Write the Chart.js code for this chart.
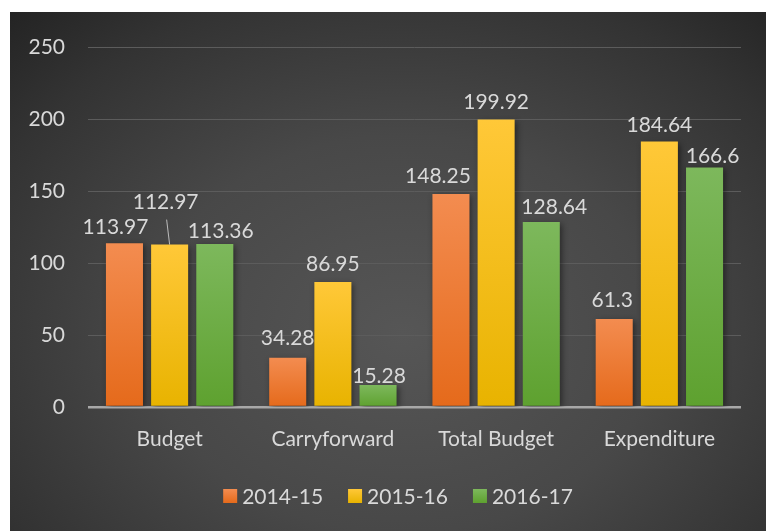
<!DOCTYPE html>
<html>
<head>
<meta charset="utf-8">
<script src="https://cdn.jsdelivr.net/npm/chart.js@4.4.0/dist/chart.umd.min.js"></script>
<style>
  html, body { margin: 0; padding: 0; background: #fff; }
  .panel {
    position: absolute; left: 10px; top: 12px; width: 756px; height: 519px;
    background: radial-gradient(ellipse 75% 85% at 52% 62%, #565656 0%, #484848 45%, #333333 80%, #242424 100%);
  }
</style>
</head>
<body>
<div class="panel"><canvas class="chart"></canvas></div>
<script>
const categories = ['Budget', 'Carryforward', 'Total Budget', 'Expenditure'];
const seriesNames = ['2014-15', '2015-16', '2016-17'];
const values2014 = [113.97, 34.28, 148.25, 61.3];
const values2015 = [112.97, 86.95, 199.92, 184.64];
const values2016 = [113.36, 15.28, 128.64, 166.6];
const yTicks = [0, 50, 100, 150, 200, 250];

// top / bottom colours of each bar gradient
const barColors = [
    ['#f38c50', '#e56a1b'],
    ['#ffc838', '#e8b300'],
    ['#7db85c', '#5ea12f']
];

// nudges for labels Excel moved to avoid overlaps [dx, dy]
const labelNudge = {
    '0,0': [-9, 2], '1,0': [-4, -25], '2,0': [6, 5],
    '0,1': [0, -2], '2,1': [1, 9],
    '0,2': [-13, 0], '2,2': [13, 3],
    '0,3': [-2, -1], '1,3': [0, 1], '2,3': [8, 7]
};
const leaderLines = ['1,0'];

const FONT = 'Lato';
const textColor = '#d9d9d9';

function barFill(dsIndex) {
    return (c) => {
        const chart = c.chart;
        const y = chart.scales && chart.scales.y;
        if (!y || c.raw === undefined) return barColors[dsIndex][0];
        const top = y.getPixelForValue(c.raw);
        const bottom = y.getPixelForValue(0);
        if (!isFinite(top) || !isFinite(bottom) || top === bottom) return barColors[dsIndex][0];
        const g = chart.ctx.createLinearGradient(0, top, 0, bottom);
        g.addColorStop(0, barColors[dsIndex][0]);
        g.addColorStop(1, barColors[dsIndex][1]);
        return g;
    };
}

const shadowPlugin = {
    id: 'barShadow',
    beforeDatasetsDraw(chart) {
        const ctx = chart.ctx;
        ctx.save();
        ctx.shadowColor = 'rgba(0,0,0,0.45)';
        ctx.shadowBlur = 6;
        ctx.shadowOffsetX = 2;
        ctx.shadowOffsetY = 2;
    },
    afterDatasetsDraw(chart) {
        chart.ctx.restore();
    }
};

const labelPlugin = {
    id: 'valueLabels',
    afterDraw(chart) {
        const ctx = chart.ctx;
        ctx.save();
        ctx.font = `21px ${FONT}`;
        ctx.fillStyle = textColor;
        ctx.textAlign = 'center';
        ctx.textBaseline = 'alphabetic';
        chart.data.datasets.forEach((ds, di) => {
            chart.getDatasetMeta(di).data.forEach((bar, i) => {
                const key = di + ',' + i;
                const n = labelNudge[key] || [0, 0];
                const x = bar.x + n[0];
                const y = bar.y - 11 + n[1];
                ctx.fillText(String(ds.data[i]), x, y);
                if (leaderLines.includes(key)) {
                    ctx.strokeStyle = 'rgba(217,217,217,0.8)';
                    ctx.lineWidth = 1;
                    ctx.beginPath();
                    ctx.moveTo(x + 1, y + 11);
                    ctx.lineTo(bar.x, bar.y);
                    ctx.stroke();
                }
            });
        });

        // legend
        const box = 14, gap = 5, itemGap = 25;
        const widths = chart.data.datasets.map(ds => ctx.measureText(ds.label).width);
        const total = widths.reduce((a, w) => a + box + gap + w, 0) + itemGap * (widths.length - 1);
        let x = 388 - total / 2;
        const cy = 484;
        ctx.textAlign = 'left';
        chart.data.datasets.forEach((ds, di) => {
            const g = ctx.createLinearGradient(0, cy - box / 2, 0, cy + box / 2);
            g.addColorStop(0, barColors[di][0]);
            g.addColorStop(1, barColors[di][1]);
            ctx.fillStyle = g;
            ctx.fillRect(x, cy - box / 2, box, box);
            ctx.fillStyle = textColor;
            ctx.fillText(ds.label, x + box + gap, cy + 8);
            x += box + gap + widths[di] + itemGap;
        });
        ctx.restore();
    }
};

const seriesValues = [values2014, values2015, values2016];

const ctx = document.getElementsByClassName('chart')[0].getContext('2d');
const budgetChart = new Chart(ctx, {
    type: 'bar',
    data: {
        labels: categories,
        datasets: seriesNames.map((name, i) => ({
            label: name,
            data: seriesValues[i],
            backgroundColor: barFill(i),
            borderWidth: 0,
            barPercentage: 0.82,
            categoryPercentage: 0.83
        }))
    },
    options: {
        responsive: true,
        maintainAspectRatio: false,
        animation: false,
        layout: { padding: { top: 35, right: 25, left: 0, bottom: 0 } },
        plugins: {
            legend: { display: false },
            tooltip: { enabled: false }
        },
        scales: {
            x: {
                grid: { display: false },
                border: { display: false },
                ticks: {
                    color: textColor,
                    font: { family: FONT, size: 21 },
                    padding: 12,
                    maxRotation: 0
                },
                afterFit(scale) { scale.height = 124; }
            },
            y: {
                min: 0,
                max: 250,
                afterBuildTicks(scale) { scale.ticks = yTicks.map(v => ({ value: v })); },
                border: { display: false },
                grid: {
                    drawTicks: false,
                    color: (c) => c.tick && c.tick.value === 0 ? '#a8a8a8' : '#5c5c5c',
                    lineWidth: (c) => c.tick && c.tick.value === 0 ? 2.5 : 1
                },
                ticks: {
                    color: textColor,
                    font: { family: FONT, size: 21 },
                    padding: 23
                },
                afterFit(scale) { scale.width = 78; }
            }
        }
    },
    plugins: [shadowPlugin, labelPlugin]
});
</script>
</body>
</html>
